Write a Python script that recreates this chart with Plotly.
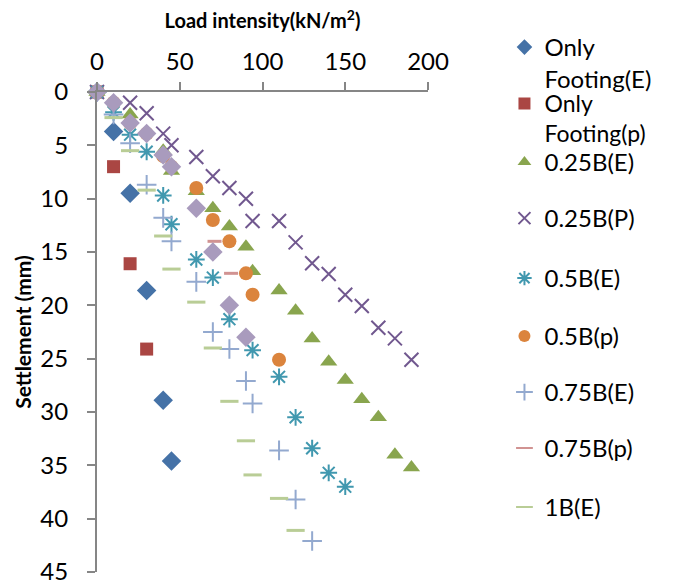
import plotly.graph_objects as go

# ---- data (load intensity kN/m2, settlement mm) ----
only_e_x = [0, 10, 20, 30, 40, 45]
only_e_y = [0, 3.7, 9.5, 18.6, 28.9, 34.6]

only_p_x = [0, 10, 20, 30]
only_p_y = [0, 7.0, 16.1, 24.1]

b025e_x = [0, 20, 40, 45, 60, 70, 80, 90, 94, 110, 120, 130, 140, 150, 160, 170, 180, 190]
b025e_y = [0, 2.1, 5.5, 7.4, 9.3, 10.9, 12.6, 14.5, 16.8, 18.6, 20.5, 23.1, 25.3, 27.0, 28.8, 30.5, 34.0, 35.2]

b025p_x = [0, 20, 30, 40, 45, 60, 70, 80, 90, 94, 110, 120, 130, 140, 150, 160, 170, 180, 190]
b025p_y = [0, 1.0, 2.0, 3.9, 5.0, 6.1, 7.9, 9.0, 10.0, 12.1, 12.1, 14.1, 16.05, 17.06, 19.0, 20.06, 22.1, 23.1, 25.1]

b05e_x = [0, 10, 20, 30, 40, 45, 60, 70, 80, 94, 110, 120, 130, 140, 150]
b05e_y = [0, 1.9, 4.0, 5.6, 9.7, 12.4, 15.7, 17.4, 21.3, 24.2, 26.7, 30.5, 33.4, 35.7, 37.0]

b05p_x = [0, 10, 20, 30, 40, 45, 60, 70, 80, 90, 94, 110]
b05p_y = [0, 1.0, 2.9, 3.9, 6.0, 7.0, 9.0, 12.0, 14.0, 17.0, 19.0, 25.1]

b075e_x = [0, 10, 20, 30, 40, 45, 60, 70, 80, 90, 94, 110, 120, 130]
b075e_y = [0, 2.1, 4.8, 8.7, 11.8, 14.0, 17.8, 22.5, 24.1, 27.1, 29.2, 33.6, 38.2, 42.1]

b075p_x = [71, 81]
b075p_y = [14.0, 17.0]

b1e_x = [0, 10, 20, 30, 40, 45, 60, 70, 80, 90, 94, 110, 120]
b1e_y = [0, 2.4, 5.5, 9.2, 13.5, 16.6, 19.7, 24.0, 29.0, 32.7, 35.9, 38.1, 41.1]

b1p_x = [0, 10, 20, 30, 40, 45, 60, 70, 80, 90]
b1p_y = [0, 1.0, 2.9, 3.9, 5.9, 7.0, 10.9, 15.0, 20.0, 23.0]

x_ticks = [0, 50, 100, 150, 200]
y_ticks = [0, 5, 10, 15, 20, 25, 30, 35, 40, 45]

FONT = "Lato"
AXIS = "#868686"

series = [
    ("Only<br>Footing(E)", only_e_x, only_e_y, "diamond", "#4572A7", 15, 0, True),
    ("Only<br>Footing(p)", only_p_x, only_p_y, "square", "#AA4643", 13, 0, True),
    ("0.25B(E)", b025e_x, b025e_y, "triangle-up", "#89A54E", 15, 0, True),
    ("0.25B(P)", b025p_x, b025p_y, "x-thin-open", "#71588F", 14, 2, True),
    ("0.5B(E)", b05e_x, b05e_y, "asterisk-open", "#4198AF", 14, 2, True),
    ("0.5B(p)", b05p_x, b05p_y, "circle", "#DB843D", 14, 0, True),
    ("0.75B(E)", b075e_x, b075e_y, "cross-thin-open", "#93A9CF", 14, 2, True),
    ("0.75B(p)", b075p_x, b075p_y, "line-ew-open", "#D19392", 10, 3, True),
    ("1B(E)", b1e_x, b1e_y, "line-ew-open", "#B9CD96", 13, 3, True),
    ("1B(p)", b1p_x, b1p_y, "diamond", "#A99BBD", 15, 0, False),
]

# legend entry anchor positions (pixels from top) and font sizes
legend_py = [42, 99, 157, 213, 273, 331, 387, 443, 502]
legend_fs = [24, 23, 24, 24, 24, 24, 24, 24, 24]
plot_top, plot_bot = 92, 572

fig = go.Figure()
layout_legends = {}
for i, (name, xs, ys, sym, col, size, lw, show) in enumerate(series):
    lname = "legend" if i == 0 else f"legend{i+1}"
    marker = dict(symbol=sym, color=col, size=size)
    if lw:
        marker["line"] = dict(width=lw, color=col)
    else:
        marker["line"] = dict(width=0)
    fig.add_trace(go.Scatter(
        x=xs, y=ys, mode="markers", name=name, marker=marker,
        cliponaxis=False, showlegend=show, legend=lname,
    ))
    if show:
        py = legend_py[i]
        layout_legends[lname] = dict(
            x=1.231, xanchor="left",
            y=(plot_bot - (py - 17)) / (plot_bot - plot_top), yanchor="top",
            valign="top", bgcolor="rgba(0,0,0,0)", visible=True,
            font=dict(family=FONT, size=legend_fs[i], color="#000000"),
            itemsizing="constant",
        )

fig.update_layout(
    width=673, height=585,
    margin=dict(l=97, r=245, t=92, b=13, autoexpand=False),
    paper_bgcolor="white", plot_bgcolor="white",
    showlegend=True,
    font=dict(family=FONT, size=22, color="#000000"),
    **layout_legends,
    xaxis=dict(
        side="top", range=[0, 200], tickvals=x_ticks, ticktext=[str(v) for v in x_ticks],
        ticks="outside", ticklen=8, tickwidth=2, tickcolor=AXIS,
        showline=True, linecolor=AXIS, linewidth=2, showgrid=False, zeroline=False,
        ticklabelstandoff=2, ticklabeloverflow="allow", automargin=False,
        tickfont=dict(family=FONT, size=24, color="#000000"),
        title=dict(text="<b>Load intensity(kN/m<sup>2</sup>)</b>", standoff=12,
                   font=dict(family=FONT, size=20, color="#000000")),
    ),
    yaxis=dict(
        range=[45, 0], tickvals=y_ticks, ticktext=[str(v) for v in y_ticks],
        ticks="outside", ticklen=8, tickwidth=2, tickcolor=AXIS,
        showline=True, linecolor=AXIS, linewidth=2, showgrid=False, zeroline=False,
        ticklabelstandoff=14, ticklabeloverflow="allow", automargin=False,
        tickfont=dict(family=FONT, size=24, color="#000000"),
        title=dict(text="<b>Settlement (mm)</b>", standoff=3,
                   font=dict(family=FONT, size=21, color="#000000")),
    ),
)

fig.write_html("out.html")
